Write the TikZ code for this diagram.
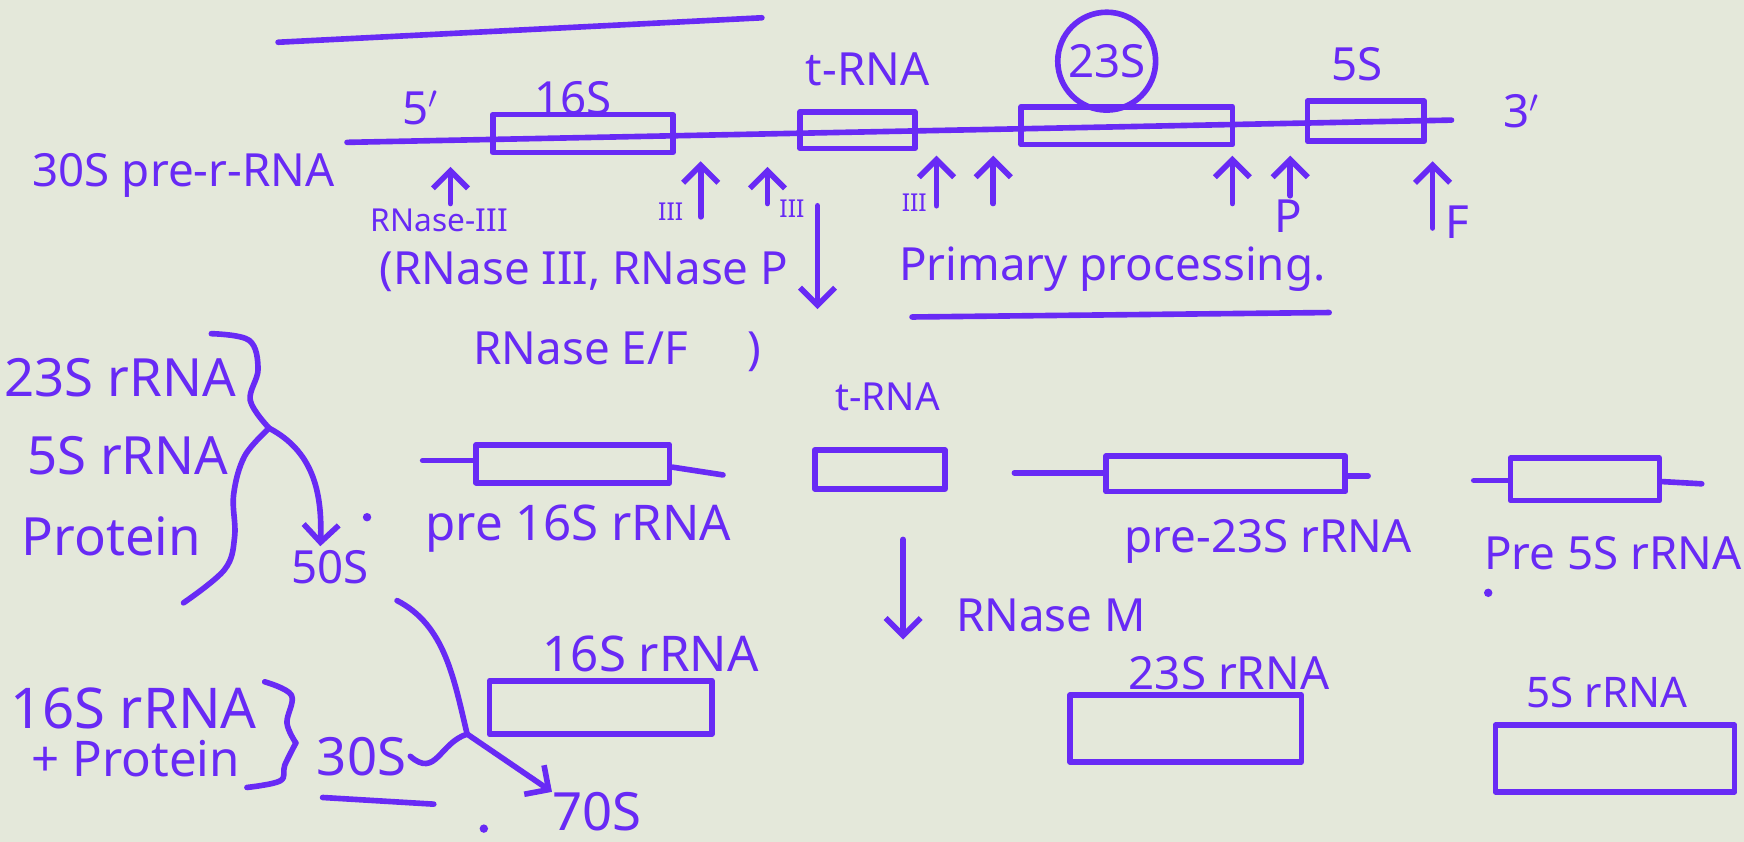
\documentclass[tikz,border=0pt]{standalone}
\usepackage{fontspec}
\setmainfont{Noto Sans}
\usetikzlibrary{arrows.meta}
\newcommand{\pxu}{0.011122cm}
\definecolor{ink}{RGB}{104,42,245}
\definecolor{paper}{RGB}{228,232,218}
\tikzset{
  pen/.style={draw=ink, line width=1.6pt, line cap=round, line join=round},
  arr/.style={pen, -{Straight Barb[length=5pt,width=10pt]}},
  gene/.style args={#1x#2}{pen, rectangle, inner sep=0pt, minimum width=#1*\pxu, minimum height=#2*\pxu},
  lbl/.style={text=ink, inner sep=1pt, font=\fontsize{13}{15}\selectfont},
  biglbl/.style={lbl, font=\fontsize{15}{17}\selectfont},
  smalllbl/.style={lbl, font=\fontsize{9}{11}\selectfont},
  tinylbl/.style={lbl, font=\fontsize{7}{8}\selectfont},
}
\begin{document}
\begin{tikzpicture}[x=\pxu, y=-\pxu]
  \fill[paper] (0,0) rectangle (1568,757);
  \useasboundingbox (0,0) rectangle (1568,757);
  % stroke at the top
  \draw[pen] (250,38) -- (685,16);

  % 30S precursor
  \node[lbl] (pre30) at (165,158) {30S pre-r-RNA};
  \node[lbl] (end5) at (378,97) {5$'$};
  \node[lbl] (end3) at (1368,100) {3$'$};
  \coordinate (mainL) at (312,128);
  \coordinate (mainR) at (1305,108);
  \draw[pen] (mainL) -- (mainR);
  \node[gene=162x34] (b16) at (524,120) {};
  \node[gene=103x33] (btr) at (771,117) {};
  \node[gene=190x34] (b23) at (1013,113) {};
  \node[gene=105x36] (b5) at (1228,109) {};
  \node[lbl] (l16) at (515,88) {16S};
  \node[lbl] (ltr) at (780,62) {t-RNA};
  \node[lbl, pen, circle, minimum size=88*\pxu] (l23) at (995,55) {23S};
  \node[lbl] (l5) at (1220,58) {5S};

  % cleavage sites
  \foreach \n/\x/\ya/\yb in {1/405/183/150, 2/630/195/145, 3/690/183/150, 4/842/185/140,
                             5/893/183/140, 6/1108/183/140, 7/1160/176/140, 8/1288/205/145} {
    \coordinate (cut\n a) at (\x,\ya);
    \coordinate (cut\n b) at (\x,\yb);
    \draw[arr] (cut\n a) -- (cut\n b);
  }
  \node[smalllbl] (rn3) at (395,198) {RNase-III};
  \node[tinylbl] (s2) at (603,190) {III};
  \node[tinylbl] (s3) at (712,188) {III};
  \node[tinylbl] (s4) at (822,182) {III};
  \node[lbl, inner sep=0pt] (sp) at (1158,194) {P};
  \node[lbl] (sf) at (1310,200) {F};
  \node[lbl] (enz1) at (525,244) {(RNase III, RNase P};
  \node[lbl] (enz2) at (555,316) {RNase E/F\hspace{1.3em})};
  \node[lbl, inner sep=0pt] (prim) at (1000,242) {Primary processing.};
  \draw[pen] (820,285) -- (1195,281);
  \coordinate (dn1a) at (735,185);
  \coordinate (dn1b) at (735,278);
  \draw[arr] (dn1a) -- (dn1b);

  % after primary processing
  \node[smalllbl, font=\fontsize{11}{13}\selectfont] (tmid) at (798,357) {t-RNA};
  \node[gene=117x35] (ptr) at (791,422) {};
  \node[gene=174x34] (p16) at (515,417) {};
  \node[gene=215x32] (p23) at (1102,426) {};
  \node[gene=134x38] (p5) at (1425,431) {};
  \draw[pen] (380,414) -- (p16.west |- 0,414);
  \draw[pen] (p16.east |- 0,420) -- (650,427);
  \draw[pen] (912,425) -- (p23.west |- 0,425);
  \draw[pen] (p23.east |- 0,428) -- (1230,428);
  \draw[pen] (1325,432) -- (p5.west |- 0,432);
  \draw[pen] (p5.east |- 0,433) -- (1530,435);
  \node[lbl, font=\fontsize{14}{16}\selectfont] (lp16) at (520,475) {pre 16S rRNA};
  \node[lbl] (lp23) at (1140,487) {pre-23S rRNA};
  \node[lbl] (lp5) at (1450,497) {Pre 5S rRNA};

  % RNase M step
  \coordinate (dn2a) at (812,485);
  \coordinate (dn2b) at (812,575);
  \draw[arr] (dn2a) -- (dn2b);
  \node[lbl] (rnm) at (945,553) {RNase M};
  \node[lbl, font=\fontsize{14}{16}\selectfont] (lm16) at (585,588) {16S rRNA};
  \node[lbl] (lm23) at (1105,605) {23S rRNA};
  \node[lbl, font=\fontsize{12}{14}\selectfont] (lm5) at (1445,623) {5S rRNA};
  \node[gene=200x48] (m16) at (540,636) {};
  \node[gene=208x60] (m23) at (1066,655) {};
  \node[gene=215x60] (m5) at (1452,682) {};

  % ribosome assembly
  \node[biglbl] (a23) at (108,340) {23S rRNA};
  \node[biglbl] (a5) at (115,410) {5S rRNA};
  \node[biglbl] (apr) at (100,482) {Protein};
  \coordinate (br1) at (242,385);
  \draw[pen] plot[smooth, tension=0.6] coordinates {(190,300) (224,306) (232,332) (225,360) (br1)};
  \draw[pen] plot[smooth, tension=0.6] coordinates {(br1) (220,410) (210,445) (211,482) (202,512) (165,542)};
  \node[lbl] (n50) at (297,510) {50S};
  \draw[arr] (br1) .. controls (280,405) and (290,440) .. ([xshift=-0.1cm]n50.north);

  \node[biglbl, font=\fontsize{16}{18}\selectfont] (a16) at (120,637) {16S rRNA};
  \node[biglbl, font=\fontsize{14}{16}\selectfont] (apr2) at (122,682) {+ Protein};
  \coordinate (br2) at (266,668);
  \draw[pen] plot[smooth, tension=0.6] coordinates {(238,613) (262,625) (258,650) (br2)};
  \draw[pen] plot[smooth, tension=0.6] coordinates {(br2) (256,688) (252,702) (222,708)};
  \node[biglbl] (n30) at (325,680) {30S};
  \draw[pen] (290,717) -- (390,723);
  \node[biglbl, font=\fontsize{15}{17}\selectfont, inner sep=0pt] (n70) at (537,730) {70S};
  \coordinate (jn) at (420,660);
  \draw[pen] (357,540) .. controls (400,562) and (408,610) .. (jn);
  \draw[pen] (n30.east) .. controls (392,700) and (395,668) .. (jn);
  \draw[arr] (jn) -- (n70.north west);

  % stray dots
  \fill[ink] (330,465) circle (1.2pt);
  \fill[ink] (435,745) circle (1.2pt);
  \fill[ink] (1338,533) circle (1.2pt);
\end{tikzpicture}
\end{document}
